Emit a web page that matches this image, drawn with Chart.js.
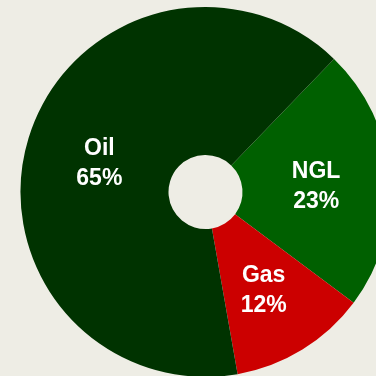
<!DOCTYPE html>
<html>
<head>
<meta charset="utf-8">
<script src="https://cdn.jsdelivr.net/npm/chart.js@4"></script>
<style>
  html, body { margin: 0; padding: 0; background: #eeede5; overflow: hidden; }
  #wrap { position: absolute; left: 0; top: 0; width: 411px; height: 384px; }
</style>
</head>
<body>
<div id="wrap"><canvas id="chart-1"></canvas></div>
<script>
// Production mix by product
const products = ["NGL", "Gas", "Oil"];
const shares = [23, 12, 65];
const sliceColors = ["#006000", "#cc0000", "#003300"];

// Writes "name / xx%" inside each slice
const sliceLabels = {
  id: "sliceLabels",
  afterDatasetsDraw(chart) {
    const ctx = chart.ctx;
    const arcs = chart.getDatasetMeta(0).data;
    ctx.save();
    ctx.fillStyle = "#ffffff";
    ctx.font = "bold 23px 'Liberation Sans', Arial, sans-serif";
    ctx.textAlign = "center";
    ctx.textBaseline = "middle";
    arcs.forEach((arc, i) => {
      const p = arc.getProps(["x", "y", "startAngle", "endAngle", "innerRadius", "outerRadius"], true);
      const mid = (p.startAngle + p.endAngle) / 2;
      const r = (p.innerRadius + p.outerRadius) / 2;
      const x = p.x + Math.cos(mid) * r;
      const y = p.y + Math.sin(mid) * r + 4;
      ctx.fillText(products[i], x, y - 15);
      ctx.fillText(shares[i] + "%", x, y + 15);
    });
    ctx.restore();
  }
};

const ctx1 = document.getElementById("chart-1").getContext("2d");
const myChart = new Chart(ctx1, {
  type: "doughnut",
  data: {
    labels: products,
    datasets: [
      {
        data: shares,
        backgroundColor: sliceColors,
        borderWidth: 0,
      },
    ],
  },
  options: {
    responsive: true,
    maintainAspectRatio: false,
    animation: false,
    cutout: "20%",
    rotation: 44,
    layout: { padding: 7 },
    plugins: {
      legend: { display: false },
      tooltip: { enabled: false },
    },
  },
  plugins: [sliceLabels],
});
</script>
</body>
</html>
